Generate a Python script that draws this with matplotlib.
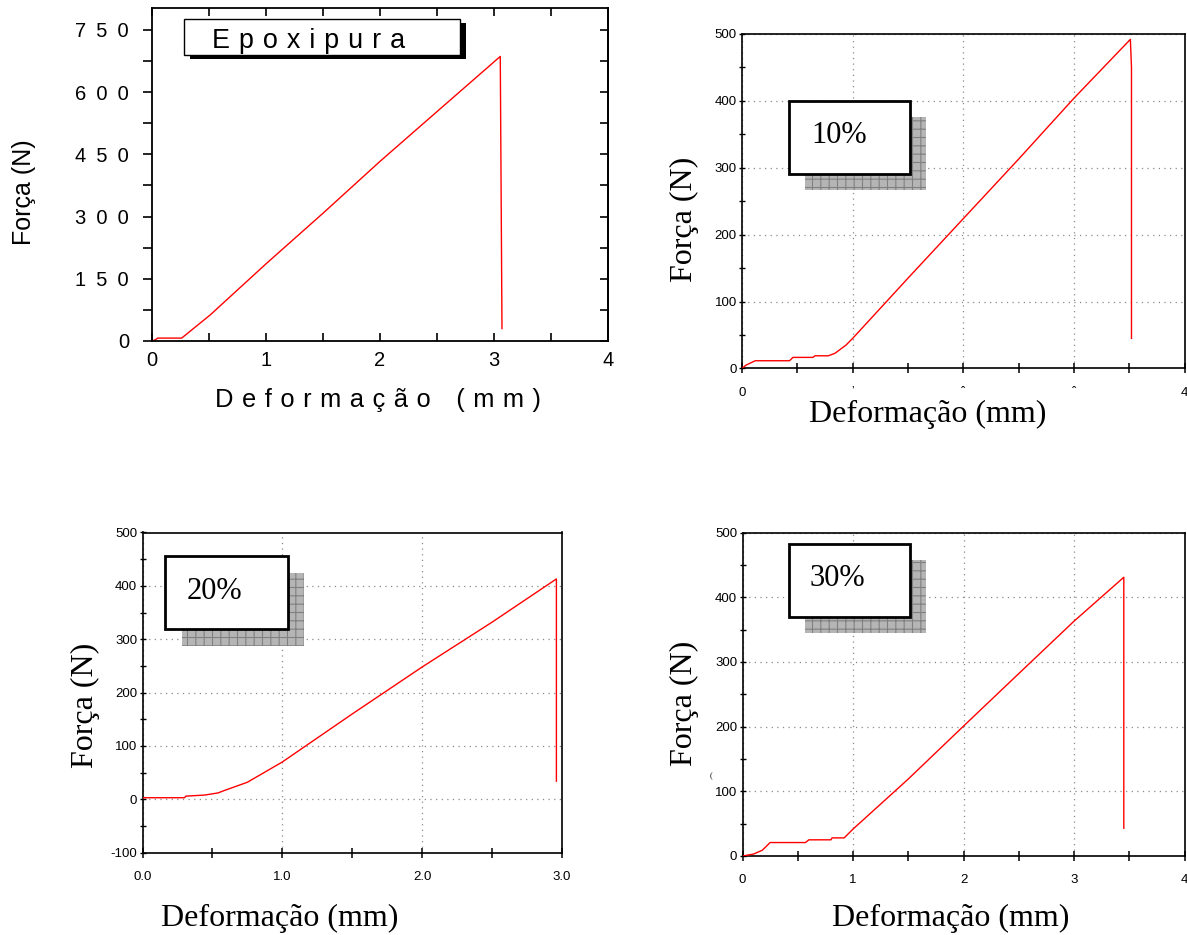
import matplotlib
matplotlib.use('Agg')
import matplotlib.pyplot as plt
from matplotlib import font_manager
from matplotlib.patches import Rectangle
from matplotlib.ticker import MultipleLocator

plt.rcParams['axes.unicode_minus'] = False
plt.rcParams['hatch.linewidth'] = 0.8

# ---------------- data ----------------
# Epoxi pura
x_epoxi = [0, 0.03, 0.05, 0.26, 0.51, 1.0, 1.5, 2.0, 2.5, 3.055, 3.07]
y_epoxi = [0, 3, 7, 7, 62.7, 186, 308, 433, 553, 686, 30]
# 10 %
x_10 = [0, 0.036, 0.12, 0.43, 0.46, 0.64, 0.66, 0.78, 0.84, 0.94, 1.0, 1.5, 2.0, 2.5, 3.0, 3.51, 3.52, 3.52]
y_10 = [0, 5, 11.6, 11.6, 16.6, 16.6, 19, 19, 22.7, 35, 45, 135, 224, 313, 404, 492, 450, 45]
# 20 %
x_20 = [0, 0.30, 0.31, 0.445, 0.54, 0.59, 0.75, 1.0, 1.5, 2.0, 2.5, 2.96, 2.96]
y_20 = [3, 3, 6, 8, 12, 17, 32, 70, 160, 248, 332, 413, 34]
# 30 %
x_30 = [0, 0.1, 0.18, 0.25, 0.57, 0.6, 0.8, 0.81, 0.92, 1.0, 1.5, 2.0, 2.5, 3.0, 3.45, 3.45]
y_30 = [0, 3, 9, 20.8, 20.8, 25, 25, 28, 28, 41.6, 119, 200.8, 282, 363, 430.8, 43]

SP = "\u2004"
title_epoxi = SP.join("Epoxipura")
label_10, label_20, label_30 = "10%", "20%", "30%"
xlabel_epoxi = SP.join("Deformação") + "\u2002\u2002" + SP.join("(mm)")
ylabel_text = "Força (N)"
xlabel_text = "Deformação (mm)"

ticks_epoxi_x = [0, 1, 2, 3, 4]
ticks_epoxi_y = [0, 150, 300, 450, 600, 750]
ticklabels_epoxi_y = ["\u2002".join(str(v)) for v in ticks_epoxi_y]

ticks_small_y = [0, 100, 200, 300, 400, 500]
ticks_20_y = [-100, 0, 100, 200, 300, 400, 500]
ticks_10_x = [0, 1, 2, 3, 4]
ticklabels_10_x = ["0", "\u02bc", "\u02c6", "\u02c6", "4"]
ticks_20_x = [0, 1, 2, 3]
ticklabels_20_x = ["0.0", "1.0", "2.0", "3.0"]
ticks_30_x = [0, 1, 2, 3, 4]

# ---------------- fonts ----------------
SERIF = ['Liberation Serif', 'DejaVu Serif']
SANS = ['Liberation Sans', 'DejaVu Sans']
_fl = font_manager.fontManager.ttflist
_names = {f.name for f in _fl}
if 'Liberation Sans Narrow' in _names:
    NARROW = dict(family=['Liberation Sans Narrow', 'DejaVu Sans'])
    NSIZE = 10
elif any(f.name == 'DejaVu Sans' and f.stretch in ('condensed', 'semi-condensed', 600) is False
         for f in _fl) and any(f.name == 'DejaVu Sans' and str(f.stretch) == 'condensed' for f in _fl):
    NARROW = dict(family=['DejaVu Sans'], fontstretch='condensed')
    NSIZE = 9.5
else:
    NARROW = dict(family=SANS)
    NSIZE = 9.5

W, H = 1187, 935
fig = plt.figure(figsize=(W / 100, H / 100), dpi=100)
RED = '#ff0000'


def fr(x0, y0, x1, y1):
    return [x0 / W, 1 - y1 / H, (x1 - x0) / W, (y1 - y0) / H]


def frect(x0, y0, x1, y1, **kw):
    r = Rectangle((x0 / W, 1 - y1 / H), (x1 - x0) / W, (y1 - y0) / H,
                  transform=fig.transFigure, **kw)
    fig.patches.append(r)
    return r


# ---------- panel 1 : Epoxi pura ----------
ax1 = fig.add_axes(fr(152, 8.3, 608, 341))
ax1.plot(x_epoxi, y_epoxi, color=RED, lw=1.0)
ax1.set_xlim(0, 4)
ax1.set_ylim(0, 802)
ax1.set_xticks(ticks_epoxi_x)
ax1.set_xticklabels([str(v) for v in ticks_epoxi_x], family=SANS, fontsize=14.5)
ax1.set_yticks(ticks_epoxi_y)
ax1.set_yticklabels(ticklabels_epoxi_y, family=SANS, fontsize=14.5)
ax1.xaxis.set_minor_locator(MultipleLocator(0.5))
ax1.yaxis.set_minor_locator(MultipleLocator(75))
ax1.tick_params(axis='x', which='both', direction='in', top=True, bottom=True,
                length=6, width=1.2, pad=7.5)
ax1.tick_params(axis='y', which='both', direction='out', left=True, right=False,
                length=6.5, width=1.2, pad=10)
for s in ax1.spines.values():
    s.set_linewidth(1.3)
sec = ax1.secondary_yaxis('right')
sec.set_yticks(ticks_epoxi_y)
sec.yaxis.set_minor_locator(MultipleLocator(75))
sec.tick_params(which='both', direction='in', length=5.5, width=1.2, labelright=False)
sec.spines['right'].set_linewidth(1.3)

fig.text(24 / W, 1 - 192 / H, ylabel_text, rotation=90, family=SANS, fontsize=18,
         ha='center', va='center')
fig.text(378 / W, 1 - 400 / H, xlabel_epoxi, family=SANS, fontsize=18.4,
         ha='center', va='center')
frect(189.7, 23.3, 466, 59.3, facecolor='black', edgecolor='none', zorder=5)
frect(183.7, 19.3, 460, 55, facecolor='white', edgecolor='black', lw=1.0, zorder=6)
fig.text(212 / W, 1 - 47.7 / H, title_epoxi, family=SANS, fontsize=19.4,
         ha='left', va='baseline', zorder=7)


# ---------- small panels ----------
def small_panel(rect, xs, ys, xlim, ylim, xticks, xticklabels, yticks):
    ax = fig.add_axes(rect)
    ax.plot(xs, ys, color=RED, lw=1.0, zorder=3)
    ax.set_xlim(*xlim)
    ax.set_ylim(*ylim)
    ax.set_xticks(xticks)
    ax.set_xticklabels(xticklabels, fontsize=NSIZE, **NARROW)
    ax.set_yticks(yticks)
    ax.set_yticklabels([str(v) for v in yticks], fontsize=NSIZE, **NARROW)
    ax.xaxis.set_minor_locator(MultipleLocator(0.5))
    ax.yaxis.set_minor_locator(MultipleLocator(50))
    ax.tick_params(axis='x', which='both', direction='inout', length=7, width=1.1,
                   pad=9.5, top=False)
    ax.tick_params(axis='y', which='both', direction='inout', length=4.5, width=1.0,
                   pad=1.5, right=False)
    ax.grid(True, which='major', linestyle=(0, (1, 3.5)), color='#8a8a8a', lw=0.9)
    for s in ax.spines.values():
        s.set_linewidth(1.2)
    return ax


def legend_box(bx0, by0, bx1, by1, sx0, sy0, sx1, sy1, tx, ty, text):
    frect(sx0, sy0, sx1, sy1, facecolor='#b5b5b5', edgecolor='#808080', lw=0,
          hatch='++', zorder=5)
    frect(bx0, by0, bx1, by1, facecolor='white', edgecolor='black', lw=2.0, zorder=6)
    fig.text(tx / W, 1 - ty / H, text, family=SERIF, fontsize=22, ha='left',
             va='baseline', zorder=7)


# panel 2 : 10 %
ax2 = small_panel(fr(742, 34, 1184.6, 368.5), x_10, y_10, (0, 4), (0, 500),
                  ticks_10_x, ticklabels_10_x, ticks_small_y)
legend_box(789, 100.8, 910, 174.2, 805.5, 117, 926.3, 190.4, 811.5, 143, label_10)
fig.text(684 / W, 1 - 219 / H, ylabel_text, rotation=90, family=SERIF, fontsize=23,
         ha='center', va='center')
fig.text(927.7 / W, 1 - 414 / H, xlabel_text, family=SERIF, fontsize=23,
         ha='center', va='center')

# panel 3 : 20 %
ax3 = small_panel(fr(142.5, 532.5, 562, 852.7), x_20, y_20, (0, 3.0), (-100, 500),
                  ticks_20_x, ticklabels_20_x, ticks_20_y)
legend_box(165.4, 556.4, 288, 629.4, 182.2, 572.9, 304.1, 645.9, 186.3, 599, label_20)
fig.text(85 / W, 1 - 705 / H, ylabel_text, rotation=90, family=SERIF, fontsize=23,
         ha='center', va='center')
fig.text(279.6 / W, 1 - 918 / H, xlabel_text, family=SERIF, fontsize=23,
         ha='center', va='center')

# panel 4 : 30 %
ax4 = small_panel(fr(742.5, 532.5, 1184.6, 856), x_30, y_30, (0, 4), (0, 500),
                  ticks_30_x, [str(v) for v in ticks_30_x], ticks_small_y)
legend_box(789, 543.6, 910, 616.6, 805.5, 559.7, 926.3, 632.8, 809.8, 586, label_30)
fig.text(684 / W, 1 - 703 / H, ylabel_text, rotation=90, family=SERIF, fontsize=23,
         ha='center', va='center')
fig.text(951 / W, 1 - 918 / H, xlabel_text, family=SERIF, fontsize=23,
         ha='center', va='center')
fig.text(710.5 / W, 1 - 776 / H, "(", family=SERIF, fontsize=6, ha='center', va='center')

fig.savefig('out.png', dpi=100, facecolor='white')
